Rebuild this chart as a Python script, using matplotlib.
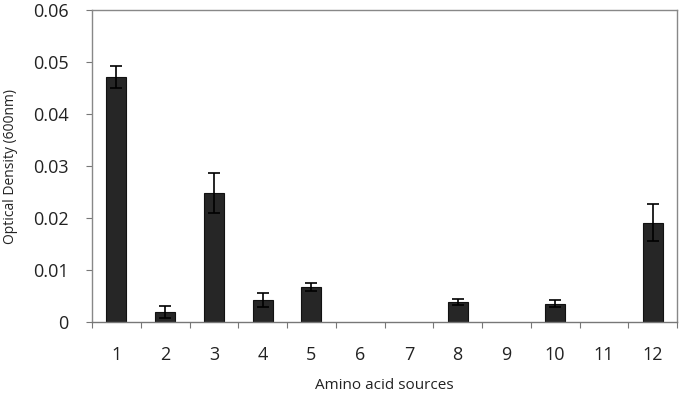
import matplotlib
matplotlib.use("Agg")
import matplotlib.pyplot as plt
import numpy as np

categories = ["1", "2", "3", "4", "5", "6", "7", "8", "9", "10", "11", "12"]
values = [0.0471, 0.0019, 0.0248, 0.0042, 0.0067, 0.0, 0.0, 0.0039, 0.0, 0.0035, 0.0, 0.0191]
errors = [0.0021, 0.0012, 0.0039, 0.0014, 0.0008, 0.0, 0.0, 0.0006, 0.0, 0.0007, 0.0, 0.0036]
yticks = [0, 0.01, 0.02, 0.03, 0.04, 0.05, 0.06]
ytick_labels = ["0", "0.01", "0.02", "0.03", "0.04", "0.05", "0.06"]

plt.rcParams['font.family'] = ['Open Sans', 'DejaVu Sans']

fig = plt.figure(figsize=(6.83, 3.97), dpi=100)
ax = fig.add_axes([92/683, 1 - 322/397, (677-92)/683, (322-10)/397])

x = np.arange(1, len(categories) + 1)
mask = [v > 0 for v in values]
xs = x[mask]
vs = np.array(values)[mask]
es = np.array(errors)[mask]
ax.bar(xs, vs, width=0.41, color="#262626", edgecolor="#111111", linewidth=0.8, zorder=2)
ax.errorbar(xs, vs, yerr=es, fmt="none", ecolor="black", elinewidth=1.2, capsize=4, capthick=1.2, zorder=3)

ax.set_xlim(0.5, 12.5)
ax.set_ylim(0, 0.06)
ax.set_yticks(yticks)
ax.set_yticklabels(ytick_labels, fontsize=13, color="#222222")

ax.set_xticks(np.arange(0.5, 12.6, 1.0))
ax.set_xticklabels([])
ax.set_xticks(x, minor=True)
ax.set_xticklabels(categories, minor=True, fontsize=13, color="#222222")
ax.tick_params(axis="x", which="major", direction="out", length=4, color="#777777")
ax.tick_params(axis="x", which="minor", length=0, pad=17)
ax.tick_params(axis="y", direction="out", length=4, color="#777777", pad=13)

for s in ax.spines.values():
    s.set_color("#888888")
    s.set_linewidth(1.0)
ax.spines["bottom"].set_color("#777777")

ax.set_ylabel("Optical Density (600nm)", fontsize=10, color="#222222")
ax.yaxis.set_label_coords(-74/585, 0.5)
ax.set_xlabel("Amino acid sources", fontsize=11, color="#222222")
ax.xaxis.set_label_coords(0.5, -56/312)

fig.savefig("out.png", dpi=100)
